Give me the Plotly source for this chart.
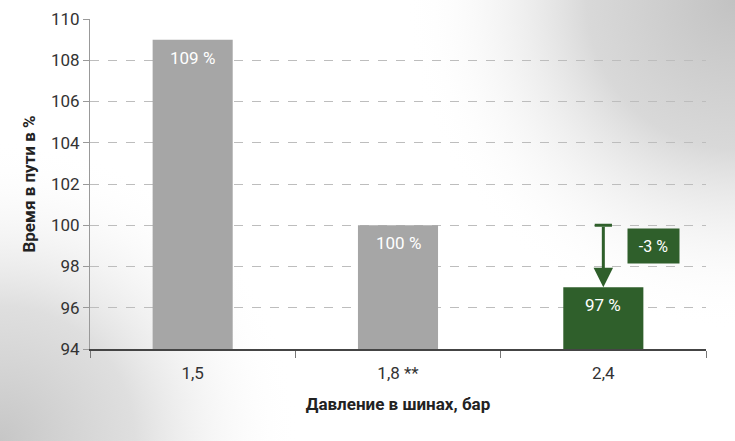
import base64
import plotly.graph_objects as go

categories = ["1,5", "1,8 **", "2,4"]
values = [109, 100, 97]
bar_colors = ["#a6a6a6", "#a6a6a6", "#2f5f2b"]
y_ticks = [94, 96, 98, 100, 102, 104, 106, 108, 110]
ref_value = 100
target_value = 97
diff_label = "-3 %"

GREEN = "#2f5f2b"

svg = """<svg xmlns='http://www.w3.org/2000/svg' width='735' height='441' viewBox='0 0 735 441' preserveAspectRatio='none'>
<defs>
<radialGradient id='tr' cx='735' cy='0' r='330' gradientUnits='userSpaceOnUse'>
<stop offset='0' stop-color='#c2c2c2' stop-opacity='1'/><stop offset='0.45' stop-color='#cfcfcf' stop-opacity='0.8'/>
<stop offset='1' stop-color='#ffffff' stop-opacity='0'/></radialGradient>
<radialGradient id='bl' cx='0' cy='441' r='300' gradientUnits='userSpaceOnUse'>
<stop offset='0' stop-color='#c6c6c6' stop-opacity='1'/><stop offset='0.45' stop-color='#d4d4d4' stop-opacity='0.75'/>
<stop offset='1' stop-color='#ffffff' stop-opacity='0'/></radialGradient>
</defs>
<rect width='735' height='441' fill='#ffffff'/>
<rect width='735' height='441' fill='url(#tr)'/>
<rect width='735' height='441' fill='url(#bl)'/></svg>"""
bg_uri = "data:image/svg+xml;base64," + base64.b64encode(svg.encode()).decode()

fig = go.Figure()
fig.add_trace(go.Bar(
    x=categories, y=[v - y_ticks[0] for v in values], base=y_ticks[0],
    marker=dict(color=bar_colors, line=dict(width=0)),
    width=0.39, hoverinfo="skip",
))
for c, v in zip(categories, values):
    fig.add_annotation(x=c, y=v, xref="x", yref="y", text=f"{v} %", showarrow=False,
                       yanchor="top", yshift=-6,
                       font=dict(color="white", size=17, family="Roboto"))

idx = categories.index("2,4")
fig.add_shape(type="line", xref="x", yref="y", x0=idx - 0.042, x1=idx + 0.042,
              y0=ref_value, y1=ref_value, line=dict(color=GREEN, width=3))
fig.add_annotation(x=idx, y=target_value, ax=idx, ay=ref_value, xref="x", yref="y",
                   axref="x", ayref="y", showarrow=True, arrowhead=2, arrowsize=1.3,
                   arrowwidth=3, arrowcolor=GREEN, text="")
fig.add_annotation(x=idx + 0.245, y=(ref_value + target_value) / 2 + 0.5, xref="x", yref="y",
                   text=diff_label, showarrow=False, bgcolor=GREEN,
                   font=dict(color="white", size=16, family="Roboto"),
                   width=49, height=32, align="center")

fig.update_layout(
    width=735, height=441,
    margin=dict(l=90, r=29, t=19, b=92, autoexpand=False),
    paper_bgcolor="rgba(0,0,0,0)", plot_bgcolor="rgba(0,0,0,0)",
    showlegend=False,
    font=dict(family="Roboto", color="#333333", size=16),
    images=[dict(source=bg_uri, xref="paper", yref="paper", x=-90/616, y=1 + 19/330,
                 sizex=735/616, sizey=441/330, sizing="stretch", layer="below",
                 xanchor="left", yanchor="top")],
    xaxis=dict(title=dict(text="<b>Давление в шинах, бар</b>", standoff=16,
                          font=dict(size=17, color="#222")),
               showline=True, linecolor="#444", linewidth=1.5,
               ticks="outside", tickson="boundaries", ticklen=7, tickcolor="#777",
               ticklabelstandoff=8,
               tickfont=dict(size=17, color="#333"), showgrid=False),
    yaxis=dict(title=dict(text="<b>Время в пути в %</b>", standoff=10,
                          font=dict(size=17, color="#222")),
               range=[y_ticks[0], y_ticks[-1]], tickvals=y_ticks,
               showline=True, linecolor="#999", linewidth=1,
               ticks="outside", ticklen=6, tickcolor="#999",
               tickfont=dict(size=17, color="#333"),
               showgrid=True, gridcolor="#bdbdbd", griddash="dash", gridwidth=1,
               zeroline=False),
)
fig.write_html("out.html", config={"displayModeBar": False},
               post_script="document.body.style.margin='0';document.body.style.padding='0';window.dispatchEvent(new Event('resize'));")
